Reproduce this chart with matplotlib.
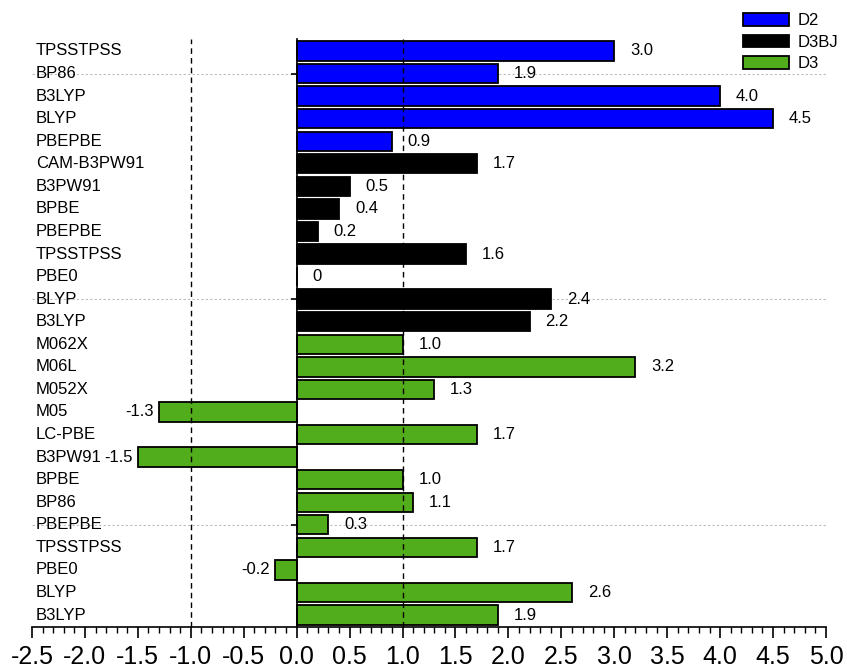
import matplotlib
matplotlib.use("Agg")
import matplotlib.pyplot as plt
import numpy as np

plt.rcParams['font.family'] = ['Liberation Sans', 'DejaVu Sans']

# functionals and deviations, listed top to bottom within each dispersion group
d2_names = ["TPSSTPSS", "BP86", "B3LYP", "BLYP", "PBEPBE"]
d2_vals = [3.0, 1.9, 4.0, 4.5, 0.9]

d3bj_names = ["CAM-B3PW91", "B3PW91", "BPBE", "PBEPBE", "TPSSTPSS", "PBE0", "BLYP", "B3LYP"]
d3bj_vals = [1.7, 0.5, 0.4, 0.2, 1.6, 0.0, 2.4, 2.2]

d3_names = ["M062X", "M06L", "M052X", "M05", "LC-PBE", "B3PW91", "BPBE", "BP86",
            "PBEPBE", "TPSSTPSS", "PBE0", "BLYP", "B3LYP"]
d3_vals = [1.0, 3.2, 1.3, -1.3, 1.7, -1.5, 1.0, 1.1, 0.3, 1.7, -0.2, 2.6, 1.9]

groups = [("D2", d2_names, d2_vals, "#0000ff"),
          ("D3BJ", d3bj_names, d3bj_vals, "#000000"),
          ("D3", d3_names, d3_vals, "#52ad1c")]

xticks = np.arange(-2.5, 5.01, 0.5)

fig = plt.figure(figsize=(8.47, 6.69), dpi=100)
ax = fig.add_axes([32 / 847, 42 / 669, 794 / 847, 588 / 669])

n_total = sum(len(g[1]) for g in groups)
pos = n_total - 1
for label, names, vals, color in groups:
    ys = pos - np.arange(len(names))
    ax.barh(ys, vals, height=0.86, color=color, edgecolor="black",
            linewidth=1.3, label=label, zorder=2)
    for y, name, v in zip(ys, names, vals):
        ax.text(-2.465, y, name, ha="left", va="center", fontsize=12)
        txt = "0" if v == 0 else f"{v:.1f}"
        if v < 0:
            ax.text(v - 0.05, y, txt, ha="right", va="center", fontsize=12)
        else:
            ax.text(v + 0.15, y, txt, ha="left", va="center", fontsize=12)
    pos -= len(names)

# reference lines at +/-1
for xv in (-1.0, 1.0):
    ax.axvline(xv, color="black", linestyle=(0, (4, 3)), linewidth=1.0, zorder=3)

ax.set_xlim(-2.5, 5.0)
ax.set_ylim(-0.53, n_total - 1 + 0.53)
ax.set_xticks(xticks)
ax.set_xticklabels([f"{t:.1f}" for t in xticks], fontsize=18)
ax.set_xticks(np.arange(-2.5, 5.01, 0.1), minor=True)
ax.tick_params(axis="x", which="major", direction="out", length=8, width=1.2, pad=5)
ax.tick_params(axis="x", which="minor", direction="out", length=4.5, width=1.0)

ax.set_yticks([4, 14, 24])
ax.set_yticklabels([])
ax.tick_params(axis="y", which="major", direction="inout", length=8, width=1.2)
ax.grid(axis="y", color="#bbbbbb", linestyle=(0, (2, 2)), linewidth=0.8, zorder=0)

ax.spines["left"].set_position(("data", 0))
ax.spines["left"].set_linewidth(1.2)
ax.spines["left"].set_zorder(4)
ax.spines["bottom"].set_linewidth(1.2)
ax.spines["top"].set_visible(False)
ax.spines["right"].set_visible(False)

fig.legend(loc="upper left", bbox_to_anchor=(743 / 847, 1 - 13 / 669), frameon=False,
           fontsize=12, handlelength=2.75, handleheight=0.8, handletextpad=0.5,
           labelspacing=0.39, borderpad=0, borderaxespad=0)

fig.savefig("out.png", dpi=100)
